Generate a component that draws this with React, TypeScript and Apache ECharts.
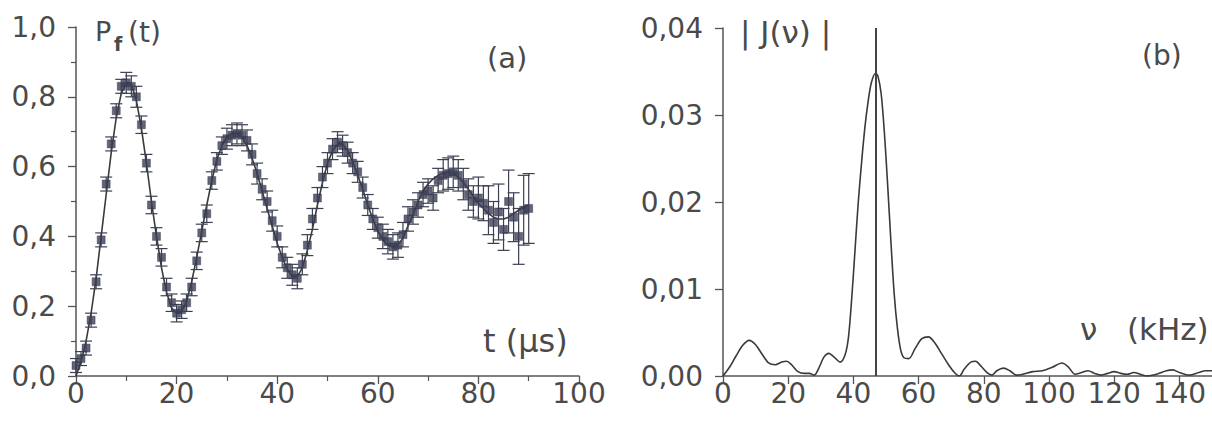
import React, { useEffect, useRef } from "react";
import * as echarts from "echarts";

// Panel (a): measured P_f(t)
const timeUs = [0,1,2,3,4,5,6,7,8,9,10,11,12,13,14,15,16,17,18,19,20,21,22,23,24,25,26,27,28,29,30,31,32,33,34,35,36,37,38,39,40,41,42,43,44,45,46,47,48,49,50,51,52,53,54,55,56,57,58,59,60,61,62,63,64,65,66,67,68,69,70,71,72,73,74,75,76,77,78,79,80,81,82,83,84,85,86,87,88,89,90];
const probability = [0.03,0.05,0.08,0.16,0.27,0.39,0.55,0.665,0.76,0.83,0.84,0.83,0.8,0.72,0.61,0.49,0.4,0.34,0.255,0.21,0.18,0.19,0.21,0.255,0.33,0.41,0.465,0.56,0.615,0.66,0.68,0.69,0.695,0.69,0.675,0.635,0.58,0.535,0.5,0.445,0.4,0.34,0.31,0.29,0.28,0.32,0.375,0.45,0.51,0.57,0.61,0.65,0.67,0.66,0.64,0.61,0.585,0.54,0.49,0.45,0.425,0.4,0.385,0.37,0.375,0.405,0.45,0.47,0.49,0.52,0.53,0.51,0.56,0.575,0.58,0.585,0.575,0.55,0.52,0.5,0.51,0.495,0.475,0.44,0.47,0.42,0.5,0.455,0.4,0.475,0.48];
const errors = [0.02,0.02,0.02,0.02,0.02,0.02,0.02,0.02,0.02,0.02,0.03,0.03,0.03,0.025,0.025,0.025,0.025,0.025,0.025,0.025,0.025,0.025,0.025,0.025,0.025,0.025,0.025,0.025,0.025,0.025,0.03,0.03,0.03,0.03,0.03,0.03,0.03,0.03,0.03,0.03,0.03,0.03,0.03,0.03,0.03,0.03,0.03,0.03,0.03,0.03,0.03,0.03,0.03,0.03,0.03,0.03,0.03,0.03,0.03,0.03,0.03,0.035,0.035,0.035,0.035,0.035,0.035,0.035,0.035,0.035,0.035,0.035,0.035,0.045,0.045,0.045,0.045,0.045,0.045,0.045,0.06,0.05,0.07,0.06,0.08,0.06,0.09,0.07,0.08,0.1,0.1];
// Fitted curve
const fitTime = [0,1,2,3,4,5,6,7,8,9,10,11,12,13,14,15,16,17,18,19,20,21,22,23,24,25,26,27,28,29,30,31,32,33,34,35,36,37,38,39,40,41,42,43,44,45,46,47,48,49,50,51,52,53,54,55,56,57,58,59,60,61,62,63,64,65,66,67,68,69,70,71,72,73,74,75,76,77,78,79,80,81,82,83,84,85,86,87,88,89,90];
const fitValues = [0,0.04,0.1,0.18,0.28,0.4,0.52,0.64,0.74,0.81,0.84,0.835,0.79,0.71,0.61,0.5,0.4,0.31,0.24,0.195,0.18,0.185,0.215,0.27,0.34,0.415,0.49,0.56,0.62,0.66,0.685,0.695,0.695,0.685,0.66,0.625,0.58,0.53,0.48,0.43,0.38,0.34,0.305,0.285,0.285,0.31,0.36,0.42,0.49,0.555,0.61,0.645,0.665,0.665,0.645,0.615,0.575,0.535,0.49,0.45,0.415,0.39,0.375,0.37,0.375,0.395,0.43,0.46,0.5,0.53,0.55,0.565,0.575,0.58,0.585,0.58,0.57,0.555,0.535,0.515,0.495,0.48,0.465,0.455,0.45,0.45,0.455,0.465,0.475,0.485,0.49];

// Panel (b): spectrum |J(nu)|
const freqKHz = [0,2,4,6,8,10,12,14,16,18,19.5,21,23,25,26.5,28,29.5,31,32.5,34,36,37.5,38.5,39.5,40.5,41.5,42.5,43.5,44.5,45.5,46.8,47.5,48.5,49.5,50.5,51.5,52.5,53.5,54.5,55.5,57,59,61,63,65,67,69,71,72.5,74,76,77.5,79,81,82.5,84,86,88,90,92,95,98,101,104,106,108,110,112,114,116,118,120,122,124,126,128,130,133,136,138,140,143,146,148,150];
const spectrum = [0,0.001,0.0023,0.0035,0.0041,0.0036,0.0025,0.0015,0.0013,0.0016,0.0017,0.0013,0.0005,0.0003,0.0003,0.0001,0.001,0.0022,0.0026,0.0022,0.0016,0.0025,0.0045,0.009,0.0145,0.02,0.0245,0.0285,0.0315,0.0337,0.0348,0.0345,0.0325,0.028,0.022,0.0155,0.0095,0.0055,0.003,0.0021,0.002,0.0032,0.0043,0.0045,0.0038,0.0026,0.0014,0.0004,0,0.0008,0.0016,0.0017,0.0012,0.0004,0.0001,0.0006,0.0009,0.0006,0.0001,0.0002,0.0005,0.0006,0.001,0.0015,0.001,0.0002,0.0004,0.0006,0.0003,0.0001,0.0003,0.0005,0.0003,0.0002,0.0004,0.0002,0,0.0002,0.0006,0.0007,0.0004,0.0001,0.0004,0.0006,0.0006];
const peakFreq = 46.8;

const leftXTicks = { min: 0, max: 100, interval: 20 };
const leftYTicks = { min: 0, max: 1, interval: 0.2 };
const rightXTicks = { min: 0, max: 150, interval: 20 };
const rightYTicks = { min: 0, max: 0.04, interval: 0.01 };

const FONT = "DejaVu Sans";
const INK = "#4a4a4a";
const AXIS = "#555555";

function axisCommon(minor: boolean) {
  return {
    axisLine: { show: true, onZero: false, lineStyle: { color: AXIS, width: 1.5 } },
    axisTick: { show: true, inside: false, length: 8, lineStyle: { color: AXIS, width: 1.3 } },
    minorTick: { show: minor, splitNumber: 2, length: 5, lineStyle: { color: AXIS, width: 1.2 } },
    splitLine: { show: false },
    minorSplitLine: { show: false },
  };
}

export default function App() {
  const ref = useRef<HTMLDivElement>(null);
  useEffect(() => {
    if (!ref.current) return;
    const chart = echarts.init(ref.current, undefined, { renderer: "svg" });
    const points = timeUs.map((t, i) => [t, probability[i]]);
    const bars = timeUs.map((t, i) => [t, probability[i], probability[i] - errors[i], probability[i] + errors[i]]);
    const fit = fitTime.map((t, i) => [t, fitValues[i]]);
    const spec = freqKHz.map((f, i) => [f, spectrum[i]]);
    const comma = (d: number) => (v: number) => v.toFixed(d).replace(".", ",");

    chart.setOption({
      animation: false,
      backgroundColor: "#ffffff",
      grid: [
        { left: 76, top: 27, width: 503, bottom: 45 },
        { left: 723, top: 28, width: 490, bottom: 45 },
      ],
      xAxis: [
        {
          gridIndex: 0, type: "value", ...leftXTicks, ...axisCommon(true),
          axisLabel: { fontFamily: FONT, fontSize: 28, color: INK, margin: 3 },
        },
        {
          gridIndex: 1, type: "value", ...rightXTicks, ...axisCommon(false),
          axisLabel: { fontFamily: FONT, fontSize: 28, color: INK, margin: 3, showMaxLabel: false,
            formatter: (v: number) => (v > 140 ? "" : String(v)) },
        },
      ],
      yAxis: [
        {
          gridIndex: 0, type: "value", ...leftYTicks, ...axisCommon(true),
          axisLabel: { fontFamily: FONT, fontSize: 28, color: INK, margin: 20, formatter: comma(1) },
        },
        {
          gridIndex: 1, type: "value", ...rightYTicks, ...axisCommon(false),
          axisLabel: { fontFamily: FONT, fontSize: 28, color: INK, margin: 20, formatter: comma(2) },
        },
      ],
      series: [
        {
          type: "line", xAxisIndex: 0, yAxisIndex: 0, data: fit, showSymbol: false, symbol: "none",
          lineStyle: { color: "#3a3a3a", width: 1.6 }, z: 2,
        },
        {
          type: "custom", xAxisIndex: 0, yAxisIndex: 0, data: bars, z: 3,
          renderItem: (params: any, api: any) => {
            const x = api.value(0);
            const lo = api.coord([x, api.value(2)]);
            const hi = api.coord([x, api.value(3)]);
            const w = 6;
            const st = { stroke: "#3d4052", lineWidth: 1.2 };
            return {
              type: "group",
              children: [
                { type: "line", shape: { x1: lo[0], y1: lo[1], x2: hi[0], y2: hi[1] }, style: st },
                { type: "line", shape: { x1: lo[0] - w, y1: lo[1], x2: lo[0] + w, y2: lo[1] }, style: st },
                { type: "line", shape: { x1: hi[0] - w, y1: hi[1], x2: hi[0] + w, y2: hi[1] }, style: st },
              ],
            };
          },
        },
        {
          type: "scatter", xAxisIndex: 0, yAxisIndex: 0, data: points, symbol: "rect", symbolSize: 8,
          itemStyle: { color: "#3b3e55", borderColor: "#2e3040", borderWidth: 0.5 }, z: 4,
        },
        {
          type: "line", xAxisIndex: 1, yAxisIndex: 1, data: spec, showSymbol: false, symbol: "none",
          smooth: 0.3, lineStyle: { color: "#3a3a3a", width: 1.6 },
          markLine: {
            silent: true, symbol: "none", label: { show: false },
            lineStyle: { color: "#444", width: 2, type: "solid" },
            data: [{ xAxis: peakFreq }],
          },
        },
      ],
      graphic: [
        { type: "text", x: 95, y: 18, style: { text: "P", font: `27px "${FONT}"`, fill: INK } },
        { type: "text", x: 114, y: 34, style: { text: "f", font: `bold 19px "${FONT}"`, fill: INK } },
        { type: "text", x: 128, y: 18, style: { text: "(t)", font: `28px "${FONT}"`, fill: INK } },
        { type: "text", x: 487, y: 43, style: { text: "(a)", font: `29px "${FONT}"`, fill: INK } },
        { type: "text", x: 483, y: 325, style: { text: "t (µs)", font: `32px "${FONT}"`, fill: INK } },
        { type: "text", x: 740, y: 16, style: { text: "| J(ν) |", font: `31px "${FONT}"`, fill: INK } },
        { type: "text", x: 1142, y: 41, style: { text: "(b)", font: `28px "${FONT}"`, fill: INK } },
        { type: "text", x: 1080, y: 313, style: { text: "ν   (kHz)", font: `31px "${FONT}"`, fill: INK } },
      ],
    });
    return () => chart.dispose();
  }, []);
  return (
    <div
      ref={ref}
      style={{ position: "fixed", left: 0, top: 0, width: 1212, height: 421, background: "#fff" }}
    />
  );
}
